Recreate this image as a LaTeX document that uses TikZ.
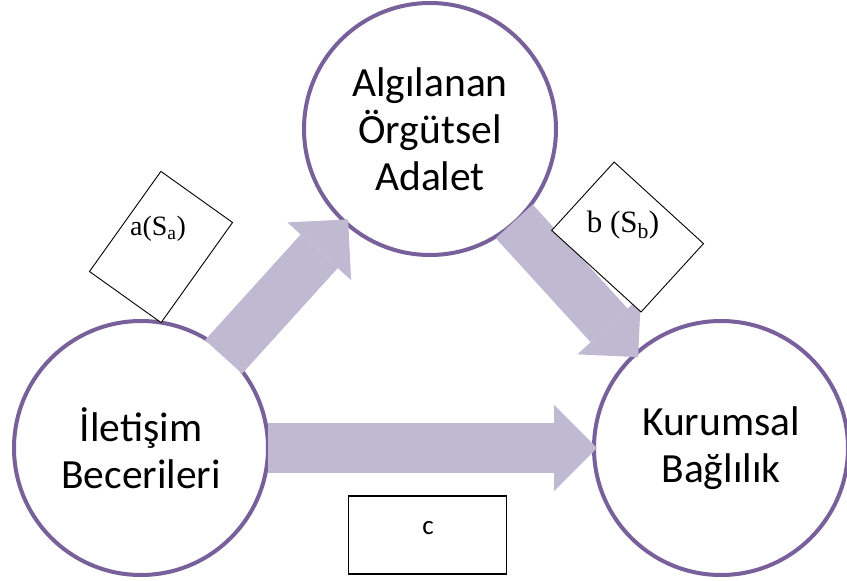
\documentclass[tikz,border=0pt]{standalone}
\usepackage{fontspec}
\usetikzlibrary{arrows.meta}

\newfontfamily\calibri{Carlito}
\newfontfamily\serifrm{Liberation Serif}

\definecolor{circline}{RGB}{120,96,155}
\definecolor{blockfill}{RGB}{191,185,210}

\begin{document}
\begin{tikzpicture}[
  x=1pt, y=-1pt,
  var/.style={draw=circline, line width=4pt, circle, fill=white, inner sep=0pt,
    minimum size=#1, align=center, font=\calibri\fontsize{41.5}{47}\selectfont},
  arr/.style={draw=blockfill, line width=50pt,
    -{Triangle[length=43pt,width=86pt,line width=0pt]}},
  pbox/.style={draw, line width=0.9pt, fill=white, inner sep=0pt},
  plabel/.style={inner sep=0pt, font=\serifrm\fontsize{28}{30}\selectfont},
]

\useasboundingbox (0,0) rectangle (847,581);

% the three variables
\node[var=254pt] (Lft) at (141,448) {İletişim\\Becerileri};
\node[var=252pt] (Top) at (430,129) {Algılanan\\Örgütsel\\Adalet};
\node[var=254pt] (Rgt) at (721,448) {Kurumsal\\Bağlılık};

% paths
\draw[arr, shorten <=-6pt, shorten >=-6pt] (Lft) -- (Top);
\draw[arr, shorten <=-3pt, shorten >=-6pt] (Top) -- (Rgt);
\draw[arr, shorten <=-2pt, shorten >=-5pt] (Lft) -- (Rgt);

% coefficient boxes
\node[pbox, minimum width=88pt, minimum height=123pt, rotate=-35.5] (boxA) at (161,247) {};
\node[pbox, minimum width=121pt, minimum height=92.6pt, rotate=-42.4] (boxB) at (627.6,237) {};
\node[pbox, line width=1.3pt, minimum width=158pt, minimum height=78pt] (boxC) at (427.5,535) {};

\node[plabel] (labA) at (158,229) {a(S\textsubscript{a})};
\node[plabel, font=\serifrm\fontsize{31}{34}\selectfont] (labB) at (623,225) {b (S\textsubscript{b})};
\node[inner sep=0pt, font=\calibri\fontsize{27}{30}\selectfont] (labC) at (428,528) {c};

\end{tikzpicture}
\end{document}
